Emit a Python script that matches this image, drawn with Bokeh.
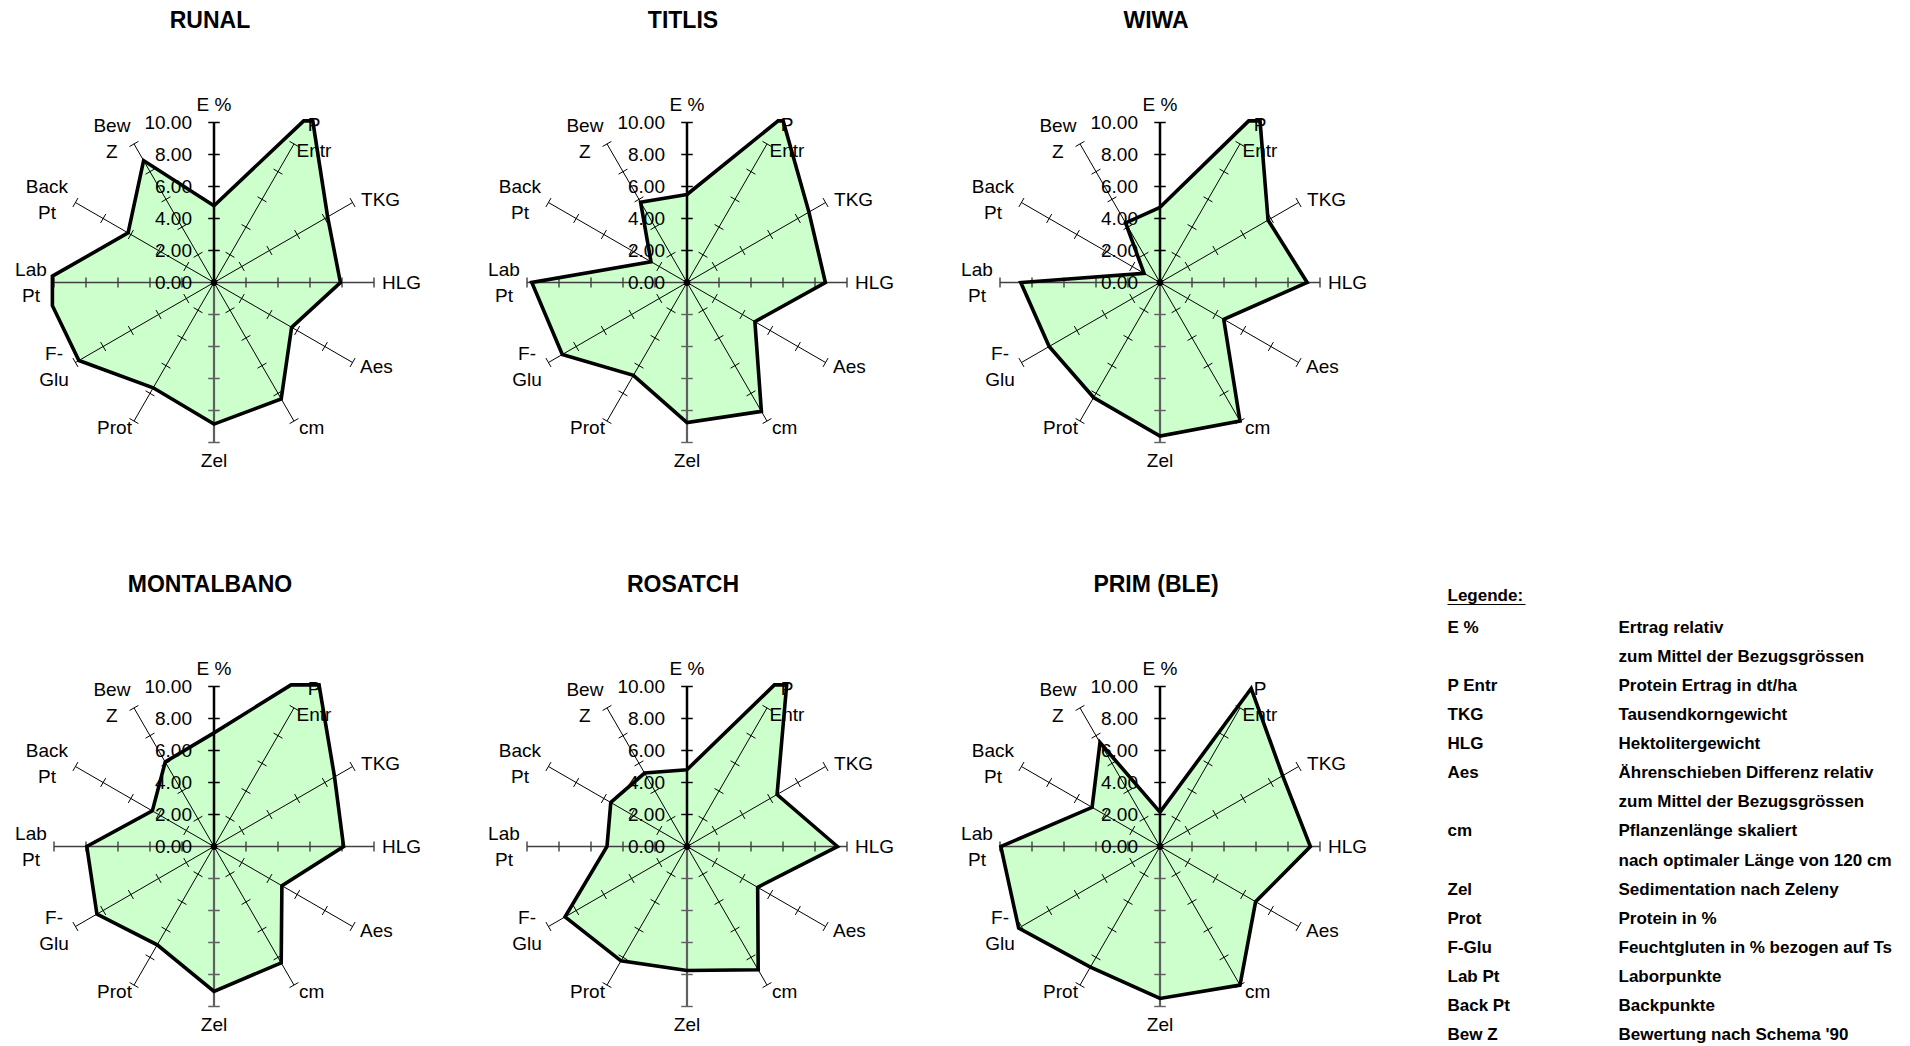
import numpy as np
from bokeh.plotting import figure
from bokeh.layouts import row, column
from bokeh.models import Range1d
from bokeh.core.properties import value
from bokeh.embed import file_html
from bokeh.resources import INLINE

# ---------------- data ----------------
axis_names = ["E %", "P\nEntr", "TKG", "HLG", "Aes", "cm", "Zel", "Prot",
              "F-\nGlu", "Lab\nPt", "Back\nPt", "Bew\nZ"]
varieties = ["RUNAL", "TITLIS", "WIWA", "MONTALBANO", "ROSATCH", "PRIM (BLE)"]

runal      = [4.8, 12.2, 8.2, 7.9, 5.6, 8.4, 8.85, 7.6, 9.75, 10.8, 6.2, 8.8]
titlis     = [5.5, 11.9, 8.8, 8.65, 4.9, 9.3, 8.75, 6.7, 9.0, 9.7, 2.6, 5.8]
wiwa       = [4.7, 12.4, 7.8, 9.2, 4.6, 10.0, 9.6, 8.3, 8.0, 8.7, 1.15, 4.3]
montalbano = [7.1, 12.8, 8.7, 8.1, 4.9, 8.4, 9.05, 7.1, 8.45, 7.95, 4.45, 6.1]
rosatch    = [4.8, 12.6, 6.5, 9.4, 5.1, 8.9, 7.75, 8.25, 8.8, 5.0, 5.5, 5.3]
prim_ble   = [2.15, 11.4, 8.85, 9.4, 6.9, 10.0, 9.5, 8.7, 10.2, 9.95, 4.9, 7.5]
series = [runal, titlis, wiwa, montalbano, rosatch, prim_ble]

tick_values = [0, 2, 4, 6, 8, 10]
tick_labels = ["0.00", "2.00", "4.00", "6.00", "8.00", "10.00"]
axis_max = 10

legend_title = "Legende:"
legend_keys = ["E %", "", "P Entr", "TKG", "HLG", "Aes", "", "cm", "", "Zel",
               "Prot", "F-Glu", "Lab Pt", "Back Pt", "Bew Z"]
legend_texts = ["Ertrag relativ", "zum Mittel der Bezugsgrössen",
                "Protein Ertrag in dt/ha", "Tausendkorngewicht",
                "Hektolitergewicht", "Ährenschieben Differenz relativ",
                "zum Mittel der Bezugsgrössen", "Pflanzenlänge skaliert",
                "nach optimaler Länge von 120 cm", "Sedimentation nach Zeleny",
                "Protein in %", "Feuchtgluten in % bezogen auf Ts",
                "Laborpunkte", "Backpunkte", "Bewertung nach Schema '90"]

# ---------------- style / layout ----------------
FONT = "Liberation Sans"
FILL = "#CCFFCC"
PX = 16.0            # pixels per data unit
FIG_W = 473
CX = 213.5           # center offset from left (px)
CY = 282.0           # center offset from top (px)
TOP_H, BOT_H = 564, 480
CLIP = 10.1
# name label positions (x, y, align) in data units
label_pos = [(0, 11.1, "center"), (6.25, 9.06, "center"), (9.19, 5.19, "left"),
             (10.5, 0, "left"), (9.13, -5.25, "left"), (5.31, -9.06, "left"),
             (0, -11.1, "center"), (-5.13, -9.06, "right"), (-10.0, -5.25, "center"),
             (-11.44, 0, "center"), (-10.44, 5.19, "center"), (-6.38, 9.0, "center")]
title_pos = (-0.25, 16.42)


def clip_square(pts, lim):
    poly = list(pts)
    for ax, sgn in [(0, 1), (0, -1), (1, 1), (1, -1)]:
        out = []
        n = len(poly)
        for i in range(n):
            cur, prev = poly[i], poly[i - 1]
            cin = sgn * cur[ax] <= lim
            pin = sgn * prev[ax] <= lim
            if cin != pin:
                t = (sgn * lim - prev[ax]) / (cur[ax] - prev[ax])
                out.append((prev[0] + t * (cur[0] - prev[0]),
                            prev[1] + t * (cur[1] - prev[1])))
            if cin:
                out.append(cur)
        poly = out
    return poly


def radar(title, vals, height):
    p = figure(width=FIG_W, height=height, output_backend="svg",
               toolbar_location=None, min_border=0,
               x_axis_location=None, y_axis_location=None,
               x_range=Range1d(-CX / PX, (FIG_W - CX) / PX),
               y_range=Range1d(-(height - CY) / PX, CY / PX))
    p.grid.visible = False
    p.outline_line_color = None
    p.background_fill_color = "white"

    n = len(vals)
    ang = np.radians(90 - 30 * np.arange(n))
    pts = [(v * np.cos(a), v * np.sin(a)) for v, a in zip(vals, ang)]
    poly = clip_square(pts, CLIP)
    px = [q[0] for q in poly]
    py = [q[1] for q in poly]
    p.patch(px, py, fill_color=FILL, line_color=None)

    # axes
    for i, a in enumerate(ang):
        c, s = np.cos(a), np.sin(a)
        if i == 0:
            col, w = "black", 2.5
        elif i == 6:
            col, w = "#606060", 2.2
        elif i in (3, 9):
            col, w = "#404040", 1.6
        else:
            col, w = "black", 1.0
        p.segment(x0=[0], y0=[0], x1=[axis_max * c], y1=[axis_max * s],
                  line_color=col, line_width=w)
        tv = np.array(tick_values[1:], dtype=float)
        h = 0.36 if i in (0, 6) else 0.32
        p.segment(x0=tv * c + h * s, y0=tv * s - h * c,
                  x1=tv * c - h * s, y1=tv * s + h * c,
                  line_color=col, line_width=1.0 if w < 1.5 else 1.4)
    p.scatter([0], [0], size=6, color="black")

    # outline
    p.line(px + [px[0]], py + [py[0]], line_color="black", line_width=3.6,
           line_join="miter")

    # tick labels
    p.text(x=[-1.375] * len(tick_values), y=tick_values, text=tick_labels,
           text_font=value(FONT), text_font_size="19px", text_align="right",
           text_baseline="middle", text_color="black")

    # axis names
    for name, (lx, ly, al) in zip(axis_names, label_pos):
        p.text(x=[lx], y=[ly], text=[name], text_font=value(FONT),
               text_font_size="19px", text_align=al, text_baseline="middle",
               text_color="black", text_line_height=1.2)

    # title
    p.text(x=[title_pos[0]], y=[title_pos[1]], text=[title], text_font=value(FONT),
           text_font_size="23px", text_font_style="bold", text_align="center",
           text_baseline="middle", text_color="black")
    return p


def legend_fig(height):
    p = figure(width=FIG_W, height=height, output_backend="svg",
               toolbar_location=None, min_border=0,
               x_axis_location=None, y_axis_location=None,
               x_range=Range1d(0, FIG_W), y_range=Range1d(height, 0))
    p.grid.visible = False
    p.outline_line_color = None
    x1, x2 = 28, 199
    y0, dy = 63, 29.07
    ys = [y0 + dy * i for i in range(len(legend_texts))]
    p.text(x=[x1], y=[31], text=[legend_title], text_font=value(FONT),
           text_font_size="17px", text_font_style="bold", text_align="left",
           text_baseline="middle")
    p.segment(x0=[x1], y0=[40], x1=[x1 + 78], y1=[40], line_color="black",
              line_width=1.2)
    p.text(x=[x1] * len(ys), y=ys, text=legend_keys, text_font=value(FONT),
           text_font_size="17px", text_font_style="bold", text_align="left",
           text_baseline="middle")
    p.text(x=[x2] * len(ys), y=ys, text=legend_texts, text_font=value(FONT),
           text_font_size="17px", text_font_style="bold", text_align="left",
           text_baseline="middle")
    return p


figs = [radar(t, v, TOP_H if k < 3 else BOT_H)
        for k, (t, v) in enumerate(zip(varieties, series))]
layout = column(row(*figs[:3]), row(*figs[3:], legend_fig(BOT_H)))

open("out.html", "w").write(file_html(layout, INLINE))
